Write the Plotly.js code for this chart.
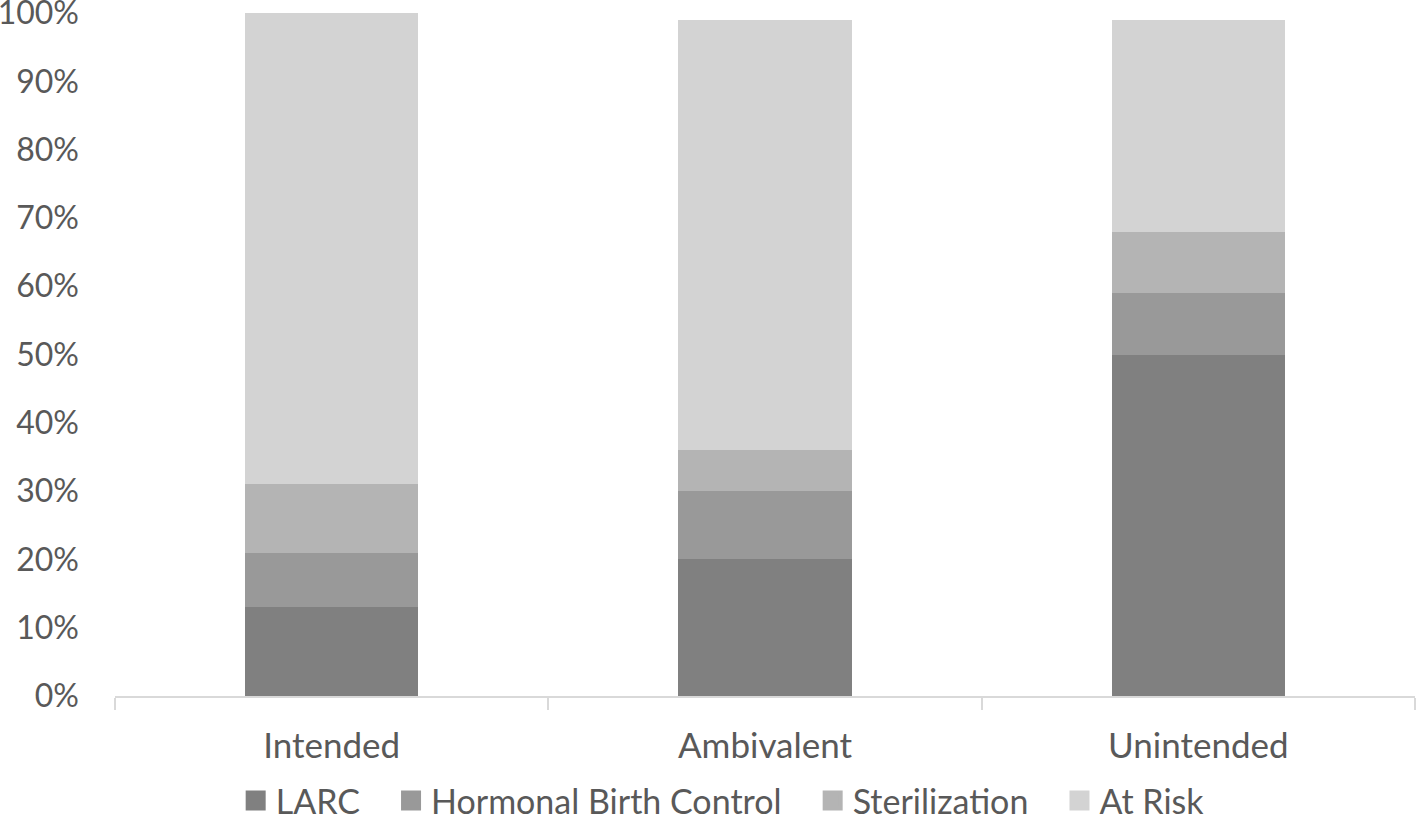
<!DOCTYPE html>
<html>
<head>
<meta charset="utf-8">
<script src="https://cdn.plot.ly/plotly-3.0.1.min.js"></script>
<style>html,body{margin:0;padding:0;background:#fff;}#chart{width:1417px;height:814px;}</style>
</head>
<body>
<div id="chart"></div>
<script>
const categories = ["Intended", "Ambivalent", "Unintended"];
const larc = [0.13, 0.20, 0.50];
const hormonal = [0.08, 0.10, 0.09];
const sterilization = [0.10, 0.06, 0.09];
const atRisk = [0.69, 0.63, 0.31];
const seriesNames = ["LARC", "Hormonal Birth Control", "Sterilization", "At Risk"];
const seriesColors = ["#808080", "#999999", "#b4b4b4", "#d3d3d3"];
const seriesValues = [larc, hormonal, sterilization, atRisk];
const yTickVals = [0, 0.1, 0.2, 0.3, 0.4, 0.5, 0.6, 0.7, 0.8, 0.9, 1.0];
const yTickText = ["0%", "10%", "20%", "30%", "40%", "50%", "60%", "70%", "80%", "90%", "100%"];

const bars = seriesValues.map((vals, i) => ({
  type: 'bar',
  x: categories,
  y: vals,
  name: seriesNames[i],
  marker: {color: seriesColors[i], line: {width: 0}},
  showlegend: false,
  hoverinfo: 'none'
}));
// legend entries with larger square symbols
const pad = '\u00a0\u00a0\u00a0';
const legendEntries = seriesNames.map((n, i) => ({
  type: 'scatter', mode: 'markers',
  x: [null], y: [null],
  name: i < seriesNames.length - 1 ? n + pad : n,
  marker: {symbol: 'square', size: 21, color: seriesColors[i], line: {width: 4, color: seriesColors[i]}},
  showlegend: true,
  hoverinfo: 'none'
}));

const layout = {
  width: 1417, height: 814,
  barmode: 'stack',
  bargap: 0.6,
  paper_bgcolor: '#fff', plot_bgcolor: '#fff',
  font: {family: 'Lato, "Open Sans", sans-serif', size: 35, color: '#595959'},
  margin: {l: 115, r: 2, t: 13, b: 118, pad: 0},
  showlegend: true,
  legend: {orientation: 'h', x: 0.51, xanchor: 'center', xref: 'container',
           y: 0.016, yanchor: 'middle', yref: 'container',
           traceorder: 'normal', itemsizing: 'trace', itemwidth: 30,
           font: {size: 34, color: '#595959'}},
  xaxis: {
    type: 'category',
    showline: true, linecolor: '#d9d9d9', linewidth: 2,
    ticks: 'outside', tickcolor: '#d9d9d9', ticklen: 12, tickwidth: 2,
    tickson: 'boundaries',
    showgrid: false, zeroline: false,
    ticklabelstandoff: 18,
    tickfont: {size: 35, color: '#595959'}
  },
  yaxis: {
    range: [0, 1],
    tickmode: 'array', tickvals: yTickVals, ticktext: yTickText,
    showgrid: false, zeroline: false, showline: false, ticks: '',
    ticklabelstandoff: 35, ticklabeloverflow: 'allow',
    tickfont: {size: 32, color: '#595959'}
  }
};
Plotly.newPlot('chart', bars.concat(legendEntries), layout, {displayModeBar: false, staticPlot: true});
</script>
</body>
</html>
